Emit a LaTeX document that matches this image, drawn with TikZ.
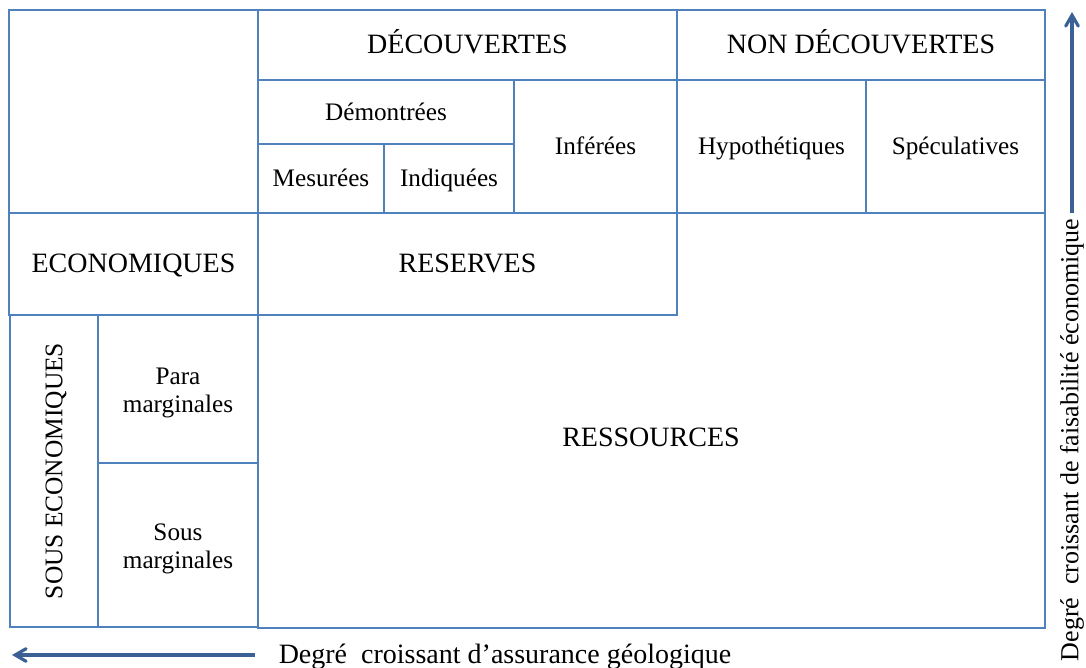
\documentclass[tikz,border=0pt]{standalone}
\usepackage{fontspec}
\setmainfont{Liberation Serif}
\usepackage{tikz}
\usetikzlibrary{arrows}
\definecolor{box_blue}{RGB}{79,129,189}
\definecolor{arrow_blue}{RGB}{58,96,148}

\begin{document}
\begin{tikzpicture}[x=0.5pt,y=-0.5pt,>=angle 60]
    \tikzstyle{txt}=[text=black,font=\fontsize{14}{16.5}\selectfont,align=center,text height=2ex,text depth=0.2ex]
    \tikzstyle{small}=[font=\fontsize{12.6}{14}\selectfont]
    \tikzstyle{cell}=[style=txt,draw=box_blue,line width=0.75pt,inner sep=0pt,outer sep=0pt,rectangle]
    \tikzstyle{twoline}=[style=txt,style=small,text height={},text depth={}]
    \tikzstyle{axis}=[->,draw=arrow_blue,line width=1.6pt]
    \useasboundingbox (0,0) rectangle (1086,668);
    % top row
    \node[cell,minimum width=124.5pt,minimum height=101.5pt] (blank) at (133.5,111.5) {};
    \node[cell,minimum width=209.5pt,minimum height=35pt] (decouv) at (467.5,45) {D\'ECOUVERTES};
    \node[cell,minimum width=184pt,minimum height=35pt] (nondec) at (861,45) {NON D\'ECOUVERTES};
    \node[cell,small,minimum width=128pt,minimum height=32pt] (demo) at (386,112) {D\'emontr\'ees};
    \node[cell,small,minimum width=63pt,minimum height=34.5pt] (mesur) at (321,178.5) {Mesur\'ees};
    \node[cell,small,minimum width=65pt,minimum height=34.5pt] (indiq) at (449,178.5) {Indiqu\'ees};
    \node[cell,small,minimum width=81.5pt,minimum height=66.5pt] (infer) at (595.5,146.5) {Inf\'er\'ees};
    \node[cell,small,minimum width=94.5pt,minimum height=66.5pt] (hypo) at (771.5,146.5) {Hypoth\'etiques};
    \node[cell,small,minimum width=89.5pt,minimum height=66.5pt] (specul) at (955.5,146.5) {Sp\'eculatives};
    % lower part
    \node[cell,minimum width=124.5pt,minimum height=51pt] (econ) at (133.5,264) {ECONOMIQUES};
    \node[cell,minimum width=393.5pt,minimum height=207.5pt] (ressbox) at (651.5,420.5) {};
    \node[txt] (ress) at (651,438) {RESSOURCES};
    \node[cell,minimum width=209.5pt,minimum height=51pt] (reserves) at (467.5,264) {RESERVES};
    \node[cell,rotate=90,font=\fontsize{12.7}{15}\selectfont,minimum width=156pt,minimum height=44pt] (sousecon) at (54,471) {SOUS ECONOMIQUES};
    \node[cell,minimum width=80pt,minimum height=74pt] (para) at (178,389) {};
    \node[twoline] (paratxt) at (178,393) {Para\\marginales};
    \node[cell,minimum width=80pt,minimum height=82pt] (sousmarg) at (178,545) {};
    \node[twoline] (sousmargtxt) at (178,549) {Sous\\marginales};
    % axes
    \coordinate (g1) at (255,655);
    \coordinate (g2) at (12,655);
    \coordinate (e1) at (1072,213);
    \coordinate (e2) at (1072,12);
    \draw[axis] (g1) -- (g2);
    \draw[axis] (e1) -- (e2);
    \node[txt] (geo) at (505,655) {Degr\'e\ \ croissant d’assurance g\'eologique};
    \node[txt,rotate=90,font=\fontsize{13}{15}\selectfont] (eco) at (1070,440) {Degr\'e\ \ croissant de faisabilit\'e \'economique};
\end{tikzpicture}
\end{document}
